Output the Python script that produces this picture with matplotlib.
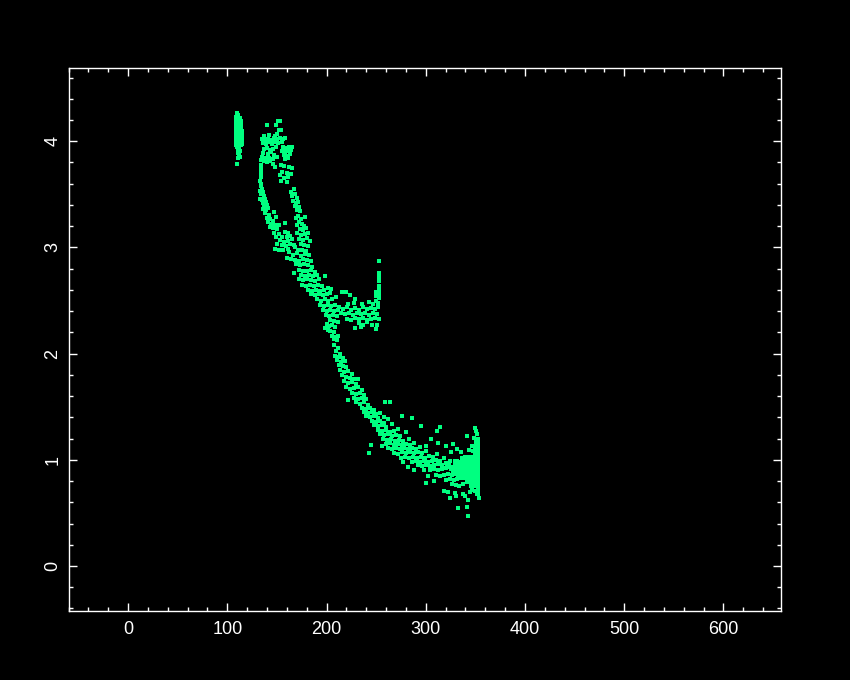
import numpy as np
from matplotlib import pyplot as plt

# values, (x, y) per part of the curve
strip_core = [(109.5, 3.97), (109.5, 4.0), (109.5, 4.03), (109.5, 4.06), (109.5, 4.09), (109.5, 4.12),
              (109.5, 4.15), (109.5, 4.18), (109.5, 4.21), (112.5, 3.97), (112.5, 4.0), (112.5, 4.03),
              (112.5, 4.06), (112.5, 4.09), (112.5, 4.12), (112.5, 4.15), (112.5, 4.18), (112.0, 4.21),
              (113.5, 3.98), (113.5, 4.02), (113.5, 4.06), (113.5, 4.09)]
strip_tail = [(110, 4.27), (111, 4.25), (109, 4.23), (110, 3.95), (112, 3.94), (111, 3.92), (113, 3.91),
              (111, 3.89), (112, 3.87), (113, 3.85), (111, 3.84), (110, 3.79)]

top_cluster = [(151, 4.19), (153, 4.19), (140, 4.15), (149, 4.15), (152, 4.11), (154, 4.11), (150, 4.07),
               (148, 4.05), (137, 4.05), (142, 4.06), (135, 4.02), (138, 4.01), (141, 4.02), (144, 4.01),
               (147, 4.03), (150, 4.02), (153, 4.03), (156, 4.02), (158, 4.03), (136, 3.98), (139, 3.97),
               (142, 3.99), (145, 3.97), (148, 3.99), (151, 3.98), (155, 3.99), (137, 3.93), (140, 3.94),
               (143, 3.92), (146, 3.93), (149, 3.95), (156, 3.95), (159, 3.94), (162, 3.95), (165, 3.95),
               (136, 3.89), (141, 3.88), (144, 3.9), (147, 3.87), (155, 3.91), (158, 3.9), (161, 3.91),
               (164, 3.92), (135, 3.85), (138, 3.84), (142, 3.84), (146, 3.83), (150, 3.85), (157, 3.87),
               (160, 3.86), (163, 3.88), (134, 3.82), (137, 3.81), (140, 3.8), (143, 3.81), (146, 3.79),
               (158, 3.83), (161, 3.84), (148, 3.76), (154, 3.78), (157, 3.77), (162, 3.76), (165, 3.75),
               (160, 3.7), (155, 3.71), (153, 3.68), (164, 3.69), (157, 3.65), (154, 3.63), (161, 3.66),
               (160, 3.62)]
left_arm = [(134, 3.78), (134, 3.75), (134, 3.72), (134, 3.69), (134, 3.66), (133, 3.63), (134, 3.6),
            (134, 3.58), (135, 3.55), (133, 3.53), (136, 3.52), (134, 3.5), (137, 3.48), (133, 3.46),
            (135, 3.45), (138, 3.46), (136, 3.42), (139, 3.43), (137, 3.39), (140, 3.4), (136, 3.36),
            (139, 3.35), (141, 3.37), (138, 3.32), (142, 3.31), (147, 3.33), (140, 3.28), (143, 3.27),
            (149, 3.29), (141, 3.24), (144, 3.22), (146, 3.25), (148, 3.21), (152, 3.21), (158, 3.23),
            (143, 3.19), (146, 3.18), (150, 3.17), (147, 3.14), (152, 3.13), (158, 3.15), (161, 3.14),
            (149, 3.1), (155, 3.1), (160, 3.1), (163, 3.11), (153, 3.07), (157, 3.05), (161, 3.06),
            (165, 3.08), (150, 3.03), (155, 3.02), (159, 3.01), (163, 3.03), (167, 3.02), (148, 2.99),
            (152, 2.98), (156, 2.98), (161, 2.99)]
right_arm = [(167, 3.55), (164, 3.52), (168, 3.5), (165, 3.48), (170, 3.47), (166, 3.44), (169, 3.42),
             (171, 3.43), (168, 3.39), (172, 3.38), (170, 3.35), (173, 3.34), (171, 3.3), (169, 3.28),
             (174, 3.27), (178, 3.29), (172, 3.24), (175, 3.22), (170, 3.21), (177, 3.2), (173, 3.17),
             (176, 3.16), (179, 3.18), (170, 3.14), (174, 3.12), (178, 3.13), (181, 3.14), (172, 3.08),
             (176, 3.07), (180, 3.09), (183, 3.06), (174, 3.03), (177, 3.02), (181, 3.01), (168, 3.0),
             (171, 2.98), (175, 2.98), (179, 2.97)]
merge_upper = [(162, 2.96), (166, 2.93), (170, 2.95), (174, 2.92), (178, 2.94), (182, 2.93), (160, 2.9),
               (164, 2.89), (168, 2.88), (172, 2.87), (176, 2.89), (180, 2.88), (184, 2.87), (169, 2.84),
               (173, 2.83), (177, 2.84), (181, 2.83), (185, 2.82), (172, 2.79), (176, 2.78), (180, 2.78),
               (184, 2.79), (188, 2.77), (167, 2.76), (174, 2.74), (178, 2.73), (182, 2.74), (186, 2.73),
               (190, 2.74), (172, 2.7), (176, 2.69), (180, 2.7), (184, 2.69), (188, 2.68), (192, 2.7),
               (198, 2.73), (175, 2.65), (179, 2.64), (183, 2.65), (187, 2.64), (191, 2.65), (195, 2.64),
               (181, 2.6), (185, 2.59), (189, 2.6), (193, 2.59), (197, 2.6), (201, 2.62), (205, 2.61),
               (184, 2.56), (188, 2.55), (192, 2.56), (196, 2.55), (200, 2.56), (204, 2.57), (216, 2.58),
               (190, 2.51), (194, 2.5), (198, 2.51), (202, 2.5), (206, 2.51), (210, 2.53), (193, 2.46),
               (197, 2.45), (201, 2.46), (205, 2.45), (209, 2.46), (196, 2.41), (200, 2.4), (204, 2.41),
               (208, 2.4), (212, 2.41), (199, 2.36), (203, 2.35), (207, 2.36), (211, 2.35), (204, 2.32),
               (208, 2.31), (212, 2.3), (200, 2.28), (203, 2.26), (206, 2.27), (209, 2.25), (198, 2.24),
               (201, 2.22), (204, 2.21), (208, 2.2), (206, 2.17), (209, 2.16), (212, 2.17), (208, 2.14),
               (211, 2.13)]
spike_arm = [(213, 2.44), (217, 2.42), (221, 2.44), (225, 2.41), (229, 2.43), (233, 2.41), (237, 2.44),
             (241, 2.42), (245, 2.43), (249, 2.42), (252, 2.44), (215, 2.38), (219, 2.37), (223, 2.38),
             (227, 2.36), (231, 2.38), (235, 2.37), (239, 2.38), (243, 2.36), (247, 2.38), (251, 2.37),
             (221, 2.33), (225, 2.32), (229, 2.34), (233, 2.33), (237, 2.34), (241, 2.32), (245, 2.33),
             (249, 2.34), (253, 2.33), (233, 2.29), (237, 2.27), (241, 2.3), (246, 2.27), (251, 2.27),
             (222, 2.47), (228, 2.48), (236, 2.47), (243, 2.49), (247, 2.47), (229, 2.51), (250, 2.5),
             (224, 2.55), (220, 2.58), (235, 2.25), (229, 2.24), (250, 2.23)]
upper_spike_top = [(253, 2.87)]
upper_spike = [(253, 2.76), (253, 2.72), (253, 2.68), (253, 2.64), (253, 2.6), (253, 2.56), (253, 2.52),
               (250, 2.58), (250, 2.54), (250, 2.5), (252, 2.48)]
mid_band = [(208, 2.08), (212, 2.05), (210, 2.02), (214, 2.0), (209, 1.98), (213, 1.97), (217, 1.96),
            (211, 1.94), (215, 1.92), (219, 1.93), (213, 1.89), (217, 1.88), (220, 1.87), (214, 1.85),
            (218, 1.83), (222, 1.84), (226, 1.81), (216, 1.8), (220, 1.78), (224, 1.77), (228, 1.76),
            (218, 1.74), (222, 1.72), (226, 1.73), (230, 1.71), (232, 1.76), (220, 1.69), (224, 1.67),
            (228, 1.68), (232, 1.69), (236, 1.66), (226, 1.63), (230, 1.62), (234, 1.63), (238, 1.61),
            (228, 1.58), (232, 1.57), (236, 1.58), (240, 1.57), (222, 1.56), (230, 1.54), (234, 1.53),
            (238, 1.54), (242, 1.52), (259, 1.54), (264, 1.54), (236, 1.49), (240, 1.48), (244, 1.49),
            (248, 1.47), (238, 1.45), (242, 1.44), (246, 1.45), (250, 1.43), (254, 1.44), (240, 1.41),
            (244, 1.4), (248, 1.41), (252, 1.39), (258, 1.4), (246, 1.37), (250, 1.36), (254, 1.37),
            (258, 1.35), (262, 1.38), (248, 1.33), (252, 1.32), (256, 1.33), (260, 1.31), (266, 1.34),
            (276, 1.41), (286, 1.39)]
lower_band = [(252, 1.28), (256, 1.27), (260, 1.28), (264, 1.26), (268, 1.27), (272, 1.29), (254, 1.24),
              (258, 1.23), (262, 1.24), (266, 1.22), (270, 1.23), (274, 1.22), (280, 1.26), (257, 1.2),
              (261, 1.19), (265, 1.2), (269, 1.18), (273, 1.19), (277, 1.18), (283, 1.2), (245, 1.14),
              (243, 1.06), (256, 1.13), (260, 1.15), (264, 1.16), (268, 1.14), (272, 1.15), (276, 1.14),
              (280, 1.15), (284, 1.14), (288, 1.16), (262, 1.11), (266, 1.1), (270, 1.11), (274, 1.1),
              (278, 1.11), (282, 1.1), (286, 1.11), (290, 1.1), (294, 1.12), (300, 1.13), (268, 1.06),
              (272, 1.05), (276, 1.07), (280, 1.06), (284, 1.07), (288, 1.06), (292, 1.07), (296, 1.06),
              (300, 1.08), (275, 1.02), (279, 1.03), (283, 1.02), (287, 1.03), (291, 1.02), (295, 1.03),
              (299, 1.02), (303, 1.04), (307, 1.03), (311, 1.05), (277, 0.98), (286, 0.98), (290, 0.99),
              (294, 0.98), (298, 0.99), (302, 0.98), (306, 0.99), (310, 1.0), (314, 0.99), (318, 1.02),
              (282, 0.93), (292, 0.95), (296, 0.94), (300, 0.95), (304, 0.94), (308, 0.95), (312, 0.96),
              (316, 0.95), (320, 0.97), (324, 0.99), (295, 1.32), (314, 1.31), (311, 1.27), (327, 1.15),
              (342, 1.22), (305, 1.2), (312, 1.16), (320, 1.13), (331, 1.1), (336, 1.07), (325, 1.07),
              (288, 0.9), (298, 0.9), (304, 0.9), (308, 0.91), (312, 0.9), (316, 0.91), (320, 0.92),
              (302, 0.85), (310, 0.86), (314, 0.85), (318, 0.86), (322, 0.87), (326, 0.86), (330, 0.87),
              (300, 0.78), (308, 0.8), (320, 0.81), (324, 0.82), (328, 0.81), (332, 0.82), (326, 0.77),
              (330, 0.76), (334, 0.75), (338, 0.77), (318, 0.71), (322, 0.7), (329, 0.69), (324, 0.64),
              (333, 0.55), (342, 0.56), (343, 0.47), (343, 0.62), (354, 0.64), (330, 0.66), (338, 0.68),
              (345, 0.7), (340, 0.66), (347, 0.72)]
end_core = [(322, 0.94), (326, 0.92), (330, 0.93), (334, 0.92), (338, 0.93), (342, 0.92), (346, 0.94),
            (350, 0.93), (352, 0.92), (328, 0.88), (332, 0.88), (336, 0.89), (340, 0.88), (344, 0.89),
            (348, 0.88), (352, 0.88), (334, 0.84), (338, 0.84), (342, 0.85), (346, 0.84), (350, 0.84),
            (352, 0.84), (330, 0.98), (336, 0.97), (341, 0.97), (345, 0.98), (349, 0.98), (352, 0.97),
            (343, 0.8), (348, 0.79), (352, 0.8), (347, 1.02), (351, 1.02), (352, 1.03), (351, 1.07),
            (352, 1.08), (352, 1.12), (350, 0.76), (352, 0.76), (338, 1.01), (342, 1.0)]
end_spike = [(350, 1.3), (351, 1.27), (352, 1.24), (349, 1.21), (353, 1.2), (351, 1.17), (353, 1.16),
             (347, 1.13), (350, 1.12), (344, 1.09), (348, 1.08), (340, 1.03), (344, 1.03), (353, 0.72),
             (350, 0.71), (353, 0.68), (352, 0.68), (346, 0.75)]

major_x = [0, 100, 200, 300, 400, 500, 600]
major_y = [0, 1, 2, 3, 4]

GREEN = '#00ff80'

fig = plt.figure(figsize=(8.5, 6.8), dpi=100, facecolor='black')
ax = fig.add_axes([68.5 / 850, 69 / 680, 712.5 / 850, 543 / 680], facecolor='black')

small = [strip_tail, top_cluster, left_arm, right_arm, merge_upper, spike_arm,
         mid_band, lower_band, end_spike, upper_spike_top]
for part in small:
    pts = np.array(part)
    ax.scatter(pts[:, 0], pts[:, 1], s=5, marker='s', c=GREEN, linewidths=0)

for part, size in [(strip_core, 14), (upper_spike, 9), (end_core, 18)]:
    pts = np.array(part)
    ax.scatter(pts[:, 0], pts[:, 1], s=size, marker='s', c=GREEN, linewidths=0)

ax.set_xlim(-60, 658)
ax.set_ylim(-0.424, 4.69)

ax.set_xticks(major_x)
ax.set_yticks(major_y)
ax.set_xticks(np.arange(-60, 660, 20), minor=True)
ax.set_yticks(np.arange(-0.4, 4.7, 0.2), minor=True)

ax.tick_params(which='major', direction='in', length=6, width=1, color='white',
               top=True, right=True)
ax.tick_params(which='minor', direction='in', length=3, width=1, color='white',
               top=True, right=True)
ax.tick_params(axis='x', which='major', labelsize=13, labelcolor='white', pad=7.5)
ax.tick_params(axis='y', which='major', labelsize=13, labelcolor='white', pad=5)

for lab in ax.get_xticklabels() + ax.get_yticklabels():
    lab.set_family('Liberation Sans')
for lab in ax.get_yticklabels():
    lab.set_rotation(90)
    lab.set_va('center')

for s in ax.spines.values():
    s.set_color('white')
    s.set_linewidth(1)

fig.savefig('out.png', dpi=100, facecolor='black')
